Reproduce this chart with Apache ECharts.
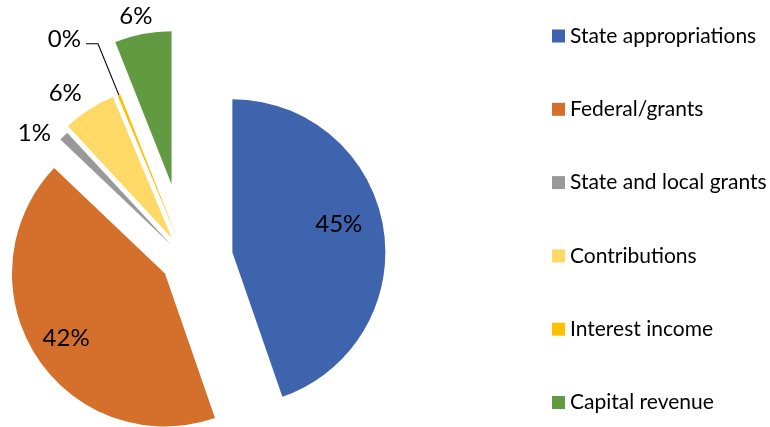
<!DOCTYPE html>
<html>
<head>
<meta charset="utf-8">
<script src="https://cdn.jsdelivr.net/npm/echarts@6/dist/echarts.min.js"></script>
<style>
html,body{margin:0;padding:0;background:#fff;}
#chart{width:770px;height:427px;}
</style>
</head>
<body>
<div id="chart"></div>
<script>
const categories = ['State appropriations', 'Federal/grants', 'State and local grants', 'Contributions', 'Interest income', 'Capital revenue'];
const values = [44.7, 42.4, 1.0, 5.6, 0.3, 6.0];
const colors = ['#3E64AD', '#D4702C', '#999999', '#FFD966', '#FFC000', '#629A42'];

// per-slice explosion and label styling
const offsets = [47, 25, 21, 26, 25, 77];
const labelCfg = [
  { position: 'inside', layout: { dx: 28, dy: -15 } },
  { position: 'inside', layout: { dx: -32, dy: 22 } },
  { position: 'outside', len: 4, len2: 5, dist: 5, line: false },
  { position: 'outside', len: 19, len2: 0, dist: -3, line: false },
  { position: 'outside', len: 55.5, len2: 12, dist: 5, line: true, layout: { dy: -4 } },
  { position: 'outside', len: 18, len2: 0, dist: -13, line: false }
];

const FONT = 'Lato';
const chart = echarts.init(document.getElementById('chart'), null, { renderer: 'canvas' });

const series = categories.map(function (cat, i) {
  const cfg = labelCfg[i];
  return {
    type: 'pie',
    center: [186, 260],
    radius: 153,
    startAngle: 90,
    clockwise: true,
    selectedMode: 'single',
    selectedOffset: offsets[i],
    percentPrecision: 0,
    avoidLabelOverlap: false,
    silent: true,
    animation: false,
    emphasis: { disabled: true },
    labelLayout: cfg.layout || {},
    label: {
      show: true,
      position: cfg.position,
      formatter: '{d}%',
      fontFamily: FONT,
      fontSize: 24,
      color: '#000',
      distanceToLabelLine: cfg.dist !== undefined ? cfg.dist : 5
    },
    labelLine: {
      show: !!cfg.line,
      length: cfg.len || 0,
      length2: cfg.len2 || 0,
      smooth: false,
      lineStyle: { color: '#000', width: 1.1 }
    },
    data: categories.map(function (name, j) {
      const visible = j === i;
      return {
        name: name,
        value: values[j],
        selected: visible,
        itemStyle: { color: visible ? colors[j] : 'transparent', borderWidth: 0 },
        label: { show: visible },
        labelLine: { show: visible && !!cfg.line }
      };
    })
  };
});

chart.setOption({
  backgroundColor: '#fff',
  animation: false,
  legend: {
    orient: 'vertical',
    left: 552,
    top: 25.5,
    padding: 0,
    itemWidth: 13,
    itemHeight: 13,
    itemGap: 52.3,
    icon: 'rect',
    selectedMode: false,
    textStyle: { fontFamily: FONT, fontSize: 21, color: '#000' },
    data: categories.map(function (name, j) {
      return { name: name, icon: 'rect', itemStyle: { color: colors[j] } };
    })
  },
  series: series
});
</script>
</body>
</html>
